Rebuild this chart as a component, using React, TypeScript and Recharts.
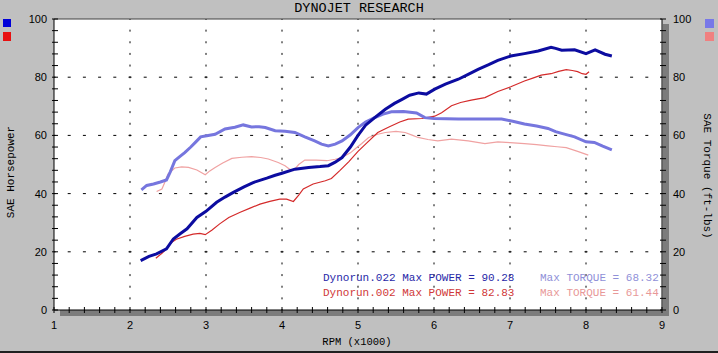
import {
  ComposedChart,
  Line,
  XAxis,
  YAxis,
  ReferenceLine,
} from "recharts";

const COLORS = {
  hp022: "#0c0ca0",
  tq022: "#7676de",
  hp002: "#d42a2a",
  tq002: "#f0a2a2",
};

// [rpm x1000, value]
const HP_022: [number, number][] = [
  [2.14, 17.0], [2.25, 18.4], [2.35, 19.3], [2.48, 21.0], [2.57, 24.4],
  [2.66, 26.2], [2.75, 27.9], [2.88, 31.8], [3.0, 33.9], [3.14, 37.0],
  [3.25, 38.8], [3.36, 40.4], [3.5, 42.3], [3.62, 43.8], [3.8, 45.3],
  [3.91, 46.3], [4.0, 47.0], [4.17, 48.4], [4.35, 49.0], [4.5, 49.3],
  [4.61, 49.6], [4.7, 50.8], [4.79, 52.4], [4.9, 56.0], [5.0, 60.0],
  [5.1, 63.5], [5.22, 66.1], [5.36, 69.0], [5.48, 71.0], [5.58, 72.4],
  [5.68, 73.8], [5.8, 74.6], [5.9, 74.2], [6.01, 75.9], [6.15, 77.6],
  [6.32, 79.3], [6.45, 81.0], [6.58, 82.7], [6.72, 84.3], [6.84, 85.8],
  [7.01, 87.3], [7.19, 88.1], [7.37, 89.0], [7.54, 90.3], [7.6, 89.9],
  [7.68, 89.3], [7.85, 89.4], [8.0, 88.1], [8.12, 89.4], [8.25, 87.9],
  [8.34, 87.3],
];

const TQ_022: [number, number][] = [
  [2.15, 41.3], [2.22, 42.8], [2.31, 43.3], [2.4, 44.0], [2.48, 44.7],
  [2.53, 47.5], [2.59, 51.3], [2.65, 52.6], [2.72, 54.1], [2.8, 56.0],
  [2.86, 57.6], [2.93, 59.5], [3.01, 59.9], [3.12, 60.4], [3.25, 62.2],
  [3.38, 62.8], [3.49, 63.6], [3.6, 62.9], [3.7, 63.0], [3.78, 62.7],
  [3.91, 61.6], [4.04, 61.4], [4.17, 61.0], [4.3, 59.5], [4.43, 58.1],
  [4.52, 57.0], [4.61, 56.4], [4.7, 57.0], [4.79, 58.1], [4.9, 60.2],
  [5.0, 62.7], [5.1, 64.6], [5.22, 66.1], [5.33, 67.3], [5.44, 68.1],
  [5.6, 68.2], [5.77, 67.7], [5.88, 66.1], [6.0, 65.8], [6.32, 65.6],
  [6.6, 65.6], [6.89, 65.6], [7.05, 64.8], [7.19, 63.9], [7.35, 63.2],
  [7.5, 62.4], [7.6, 61.3], [7.68, 60.7], [7.85, 59.5], [8.0, 57.8],
  [8.11, 57.6], [8.22, 56.3], [8.34, 55.0],
];

const HP_002: [number, number][] = [
  [2.34, 17.8], [2.42, 19.5], [2.48, 21.0], [2.55, 23.3], [2.61, 24.3],
  [2.72, 25.3], [2.83, 26.1], [2.92, 26.3], [2.99, 25.9], [3.08, 27.5],
  [3.18, 29.6], [3.3, 31.8], [3.45, 33.6], [3.58, 35.0], [3.71, 36.4],
  [3.84, 37.3], [3.97, 38.1], [4.06, 38.1], [4.15, 37.3], [4.22, 39.5],
  [4.28, 41.6], [4.41, 43.3], [4.57, 44.4], [4.65, 45.2], [4.76, 47.9],
  [4.88, 51.0], [5.0, 54.5], [5.12, 57.5], [5.26, 61.0], [5.4, 62.8],
  [5.55, 64.6], [5.66, 65.6], [5.84, 65.8], [6.01, 66.6], [6.1, 67.8],
  [6.23, 70.2], [6.35, 71.3], [6.49, 72.1], [6.67, 73.0], [6.84, 75.1],
  [7.01, 76.7], [7.19, 78.7], [7.3, 79.7], [7.41, 80.7], [7.54, 81.2],
  [7.64, 82.0], [7.74, 82.6], [7.82, 82.3], [7.89, 81.9], [7.95, 81.2],
  [8.0, 81.0], [8.04, 81.9],
];

const TQ_002: [number, number][] = [
  [2.35, 40.7], [2.42, 41.6], [2.46, 44.0], [2.5, 46.7], [2.59, 48.8],
  [2.68, 49.2], [2.77, 49.0], [2.88, 48.1], [2.99, 46.5], [3.05, 47.8],
  [3.12, 49.0], [3.22, 50.5], [3.34, 52.1], [3.47, 52.5], [3.6, 52.7],
  [3.72, 52.4], [3.82, 51.9], [3.95, 50.7], [4.04, 49.6], [4.1, 48.4],
  [4.15, 47.9], [4.22, 50.0], [4.3, 51.5], [4.45, 51.5], [4.59, 51.3],
  [4.7, 51.8], [4.79, 52.4], [4.9, 54.0], [4.96, 55.3], [5.05, 57.2],
  [5.14, 59.3], [5.26, 60.4], [5.36, 61.0], [5.5, 61.4], [5.62, 61.0],
  [5.72, 60.0], [5.79, 59.3], [5.92, 58.6], [6.05, 58.1], [6.23, 58.7],
  [6.45, 58.1], [6.67, 57.2], [6.84, 57.8], [7.0, 57.5], [7.19, 57.2],
  [7.35, 56.8], [7.5, 56.4], [7.62, 56.1], [7.74, 55.8], [7.89, 54.5],
  [8.03, 53.2],
];

const X_TICKS = Array.from({ length: 41 }, (_, i) => Math.round((1 + i * 0.2) * 10) / 10);
const Y_TICKS = Array.from({ length: 26 }, (_, i) => i * 4);
const Y_LABELS = [0, 20, 40, 60, 80, 100];
const X_GRID = [2, 3, 4, 5, 6, 7, 8];
const Y_GRID = [20, 40, 60, 80];

const toRows = (pts: [number, number][]) => pts.map(([rpm, v]) => ({ rpm, v }));

const MONO = "'Liberation Mono', 'DejaVu Sans Mono', monospace";
const SANS = "'Liberation Sans', Arial, sans-serif";

const LeftTick = ({ x, y, payload }: any) => (
  <g>
    <line x1={x - 2} x2={x + 4} y1={y} y2={y} stroke="#000" />
    {Y_LABELS.includes(payload.value) && (
      <text x={x - 7} y={y + 4} textAnchor="end" fontSize={11} fontFamily={SANS} fill="#000">
        {payload.value}
      </text>
    )}
  </g>
);

const RightTick = ({ x, y, payload }: any) => (
  <g>
    <line x1={x - 2} x2={x + 4} y1={y} y2={y} stroke="#000" />
    {Y_LABELS.includes(payload.value) && (
      <text x={x + 11} y={y + 4} textAnchor="start" fontSize={11} fontFamily={SANS} fill="#000">
        {payload.value}
      </text>
    )}
  </g>
);

const BottomTick = ({ x, y, payload }: any) => {
  const major = Math.abs(payload.value - Math.round(payload.value)) < 1e-6;
  return (
    <g>
      <line x1={x} x2={x} y1={y - 3} y2={y + 3} stroke="#000" />
      {major && (
        <text x={x} y={y + 19} textAnchor="middle" fontSize={11} fontFamily={SANS} fill="#000">
          {Math.round(payload.value)}
        </text>
      )}
    </g>
  );
};

const abs = (s: React.CSSProperties): React.CSSProperties => ({ position: "absolute", ...s });

export default function App() {
  return (
    <div
      style={{
        position: "fixed",
        left: 0,
        top: 0,
        width: 718,
        height: 353,
        background: "#c0c0c0",
        overflow: "hidden",
      }}
    >
      <div style={abs({ left: 54, top: 19, width: 608, height: 291, background: "#fff" })} />
      <div style={abs({ left: 60, top: 310, width: 609, height: 6, background: "#7c7c7c" })} />
      <div style={abs({ left: 663, top: 24, width: 6, height: 292, background: "#7c7c7c" })} />
      <div style={abs({ left: 0, top: 351, width: 718, height: 2, background: "#202020" })} />

      <div style={abs({ left: 0, top: 0 })}>
        <ComposedChart width={718} height={353} margin={{ top: 19, right: 0, left: 0, bottom: 0 }}>
          <XAxis
            type="number"
            dataKey="rpm"
            domain={[1, 9]}
            ticks={X_TICKS}
            interval={0}
            height={43}
            tickSize={0}
            tickMargin={0}
            tick={<BottomTick />}
            axisLine={{ stroke: "#000" }}
            allowDataOverflow
          />
          <YAxis
            yAxisId="hp"
            orientation="left"
            domain={[0, 100]}
            ticks={Y_TICKS}
            interval={0}
            width={54}
            tickSize={0}
            tickMargin={0}
            tick={<LeftTick />}
            axisLine={{ stroke: "#000" }}
          />
          <YAxis
            yAxisId="tq"
            orientation="right"
            domain={[0, 100]}
            ticks={Y_TICKS}
            interval={0}
            width={56}
            tickSize={0}
            tickMargin={0}
            tick={<RightTick />}
            axisLine={{ stroke: "#000" }}
          />
          {X_GRID.map((v) => (
            <ReferenceLine
              key={`gx${v}`}
              x={v}
              yAxisId="hp"
              stroke="#000"
              strokeDasharray="2 9.64"
              strokeDashoffset={1}
            />
          ))}
          {Y_GRID.map((v) => (
            <ReferenceLine
              key={`gy${v}`}
              y={v}
              yAxisId="hp"
              stroke="#000"
              strokeDasharray="3 12.2"
              strokeDashoffset={1.5}
            />
          ))}
          <ReferenceLine y={100} yAxisId="hp" stroke="#404040" />
          <Line
            yAxisId="tq"
            data={toRows(TQ_002)}
            dataKey="v"
            type="linear"
            stroke={COLORS.tq002}
            strokeWidth={1.2}
            dot={false}
            isAnimationActive={false}
          />
          <Line
            yAxisId="hp"
            data={toRows(HP_002)}
            dataKey="v"
            type="linear"
            stroke={COLORS.hp002}
            strokeWidth={1.2}
            dot={false}
            isAnimationActive={false}
          />
          <Line
            yAxisId="tq"
            data={toRows(TQ_022)}
            dataKey="v"
            type="linear"
            stroke={COLORS.tq022}
            strokeWidth={3}
            dot={false}
            isAnimationActive={false}
          />
          <Line
            yAxisId="hp"
            data={toRows(HP_022)}
            dataKey="v"
            type="linear"
            stroke={COLORS.hp022}
            strokeWidth={3}
            dot={false}
            isAnimationActive={false}
          />
        </ComposedChart>
      </div>

      <div style={abs({ left: 0, width: 718, top: 1, textAlign: "center", fontFamily: MONO, fontSize: 13.5, color: "#000" })}>
        DYNOJET RESEARCH
      </div>

      <div style={abs({ left: 3, top: 19, width: 8, height: 8, background: "#0000d8" })} />
      <div style={abs({ left: 3, top: 32, width: 8, height: 9, background: "#e81010" })} />
      <div style={abs({ left: 705, top: 19, width: 9, height: 9, background: "#7878e8" })} />
      <div style={abs({ left: 705, top: 32, width: 9, height: 9, background: "#f08080" })} />

      <div
        style={abs({
          left: 11,
          top: 172,
          transform: "translate(-50%, -50%) rotate(-90deg)",
          whiteSpace: "pre",
          fontFamily: MONO,
          fontSize: 11,
          color: "#000",
        })}
      >
        SAE Horsepower
      </div>
      <div
        style={abs({
          left: 707,
          top: 176,
          transform: "translate(-50%, -50%) rotate(90deg)",
          whiteSpace: "pre",
          fontFamily: MONO,
          fontSize: 11,
          color: "#000",
        })}
      >
        SAE Torque (ft-lbs)
      </div>
      <div
        style={abs({
          left: 357,
          top: 342,
          transform: "translate(-50%, -50%)",
          whiteSpace: "pre",
          fontFamily: MONO,
          fontSize: 10.5,
          color: "#000",
        })}
      >
        RPM (x1000)
      </div>

      <div style={abs({ left: 323, top: 272, whiteSpace: "pre", fontFamily: MONO, fontSize: 11, color: "#2828a8" })}>
        Dynorun.022 Max POWER = 90.28
      </div>
      <div style={abs({ left: 540, top: 272, whiteSpace: "pre", fontFamily: MONO, fontSize: 11, color: "#9090d8" })}>
        Max TORQUE = 68.32
      </div>
      <div style={abs({ left: 323, top: 287, whiteSpace: "pre", fontFamily: MONO, fontSize: 11, color: "#d03838" })}>
        Dynorun.002 Max POWER = 82.83
      </div>
      <div style={abs({ left: 540, top: 287, whiteSpace: "pre", fontFamily: MONO, fontSize: 11, color: "#e89898" })}>
        Max TORQUE = 61.44
      </div>
    </div>
  );
}
